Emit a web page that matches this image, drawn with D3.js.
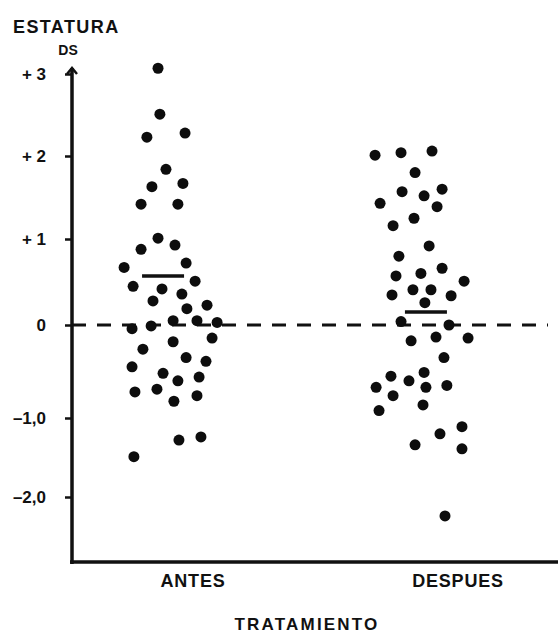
<!DOCTYPE html>
<html>
<head>
<meta charset="utf-8">
<script src="https://cdn.jsdelivr.net/npm/d3@7"></script>
<style>
  body { margin: 0; background: #fff; }
  svg { display: block; }
  text { font-family: "Liberation Sans", Arial, sans-serif; font-weight: bold; fill: #111; }
</style>
</head>
<body>
<div id="chart"></div>
<script>
// categories and tick labels
const categorias = ['ANTES', 'DESPUES'];
const tickValores = [3, 2, 1, 0, -1, -2];
const tickEtiquetas = ['+ 3', '+ 2', '+ 1', '0', '–1,0', '–2,0'];

// estatura (DS) of each child
const antes = [3.07, 2.51, 2.23, 2.28, 1.84, 1.63, 1.67, 1.42, 1.42, 1.01,
  0.88, 0.93, 0.67, 0.72, 0.45, 0.51, 0.42, 0.36, 0.28, 0.19,
  0.23, -0.04, -0.01, 0.05, 0.05, 0.03, -0.14, -0.18, -0.26, -0.35,
  -0.39, -0.45, -0.52, -0.60, -0.56, -0.72, -0.69, -0.82, -0.76, -1.28,
  -1.24, -1.49];
const despues = [2.01, 2.04, 2.06, 1.80, 1.57, 1.52, 1.60, 1.43, 1.39, 1.25,
  1.16, 0.92, 0.80, 0.57, 0.60, 0.66, 0.51, 0.35, 0.41, 0.41,
  0.34, 0.26, 0.04, 0.00, -0.17, -0.13, -0.14, -0.35, -0.51, -0.55,
  -0.60, -0.65, -0.67, -0.67, -0.76, -0.92, -0.86, -1.11, -1.20, -1.34,
  -1.39, -2.24];

// horizontal scatter of each dot, in category units
const jitterAntes = [-0.132, -0.125, -0.174, -0.030, -0.102, -0.155, -0.038, -0.196, -0.057, -0.132,
  -0.196, -0.068, -0.260, -0.026, -0.226, 0.008, -0.117, -0.042, -0.151, -0.023,
  0.053, -0.230, -0.158, -0.075, 0.015, 0.091, 0.072, -0.075, -0.189, -0.026,
  0.049, -0.230, -0.113, -0.057, 0.023, -0.219, -0.136, -0.072, 0.015, -0.053,
  0.030, -0.223];
const jitterDespues = [-0.313, -0.215, -0.098, -0.162, -0.211, -0.128, -0.060, -0.294, -0.079, -0.166,
  -0.245, -0.109, -0.223, -0.234, -0.140, -0.060, 0.023, -0.249, -0.170, -0.102,
  -0.026, -0.125, -0.215, -0.034, -0.177, -0.083, 0.038, -0.053, -0.128, -0.253,
  -0.185, -0.042, -0.121, -0.309, -0.245, -0.298, -0.132, 0.015, -0.068, -0.162,
  0.015, -0.049];

// the mean bar drawn on each group
const medias = [0.57, 0.15];
const jitterMedias = [-0.113, -0.121];

const width = 558, height = 635;
const axisX = 72, axisTop = 68, axisBottom = 562;

const svg = d3.select('#chart').append('svg')
  .attr('width', width)
  .attr('height', height);

// the original's hand-drawn scale is not even, so map each tick to its place
const y = d3.scaleLinear()
  .domain([-2, -1, 0, 1, 2, 3])
  .range([497, 418, 325, 239, 156, 74]);

const x = d3.scaleLinear()
  .domain([1, 2])
  .range([193, 458]);

const grupos = [
  { valores: antes, jitter: jitterAntes },
  { valores: despues, jitter: jitterDespues }
];

// zero reference line
svg.append('line')
  .attr('x1', axisX).attr('x2', 548)
  .attr('y1', y(0)).attr('y2', y(0))
  .attr('stroke', '#111')
  .attr('stroke-width', 3)
  .attr('stroke-dasharray', '14 11');

// dots
grupos.forEach(function(g, i) {
  svg.append('g')
    .selectAll('circle')
    .data(g.valores)
    .enter().append('circle')
    .attr('cx', function(d, j) { return x(i + 1 + g.jitter[j]); })
    .attr('cy', function(d) { return y(d); })
    .attr('r', 5.5)
    .attr('fill', '#0d0d0d');
});

// mean bars
svg.append('g')
  .selectAll('line')
  .data(medias)
  .enter().append('line')
  .attr('x1', function(d, i) { return x(i + 1 + jitterMedias[i]) - 21; })
  .attr('x2', function(d, i) { return x(i + 1 + jitterMedias[i]) + 21; })
  .attr('y1', function(d) { return y(d); })
  .attr('y2', function(d) { return y(d); })
  .attr('stroke', '#111')
  .attr('stroke-width', 3.5);

// y axis
const yAxis = svg.append('g')
  .attr('transform', 'translate(' + axisX + ',0)')
  .call(d3.axisLeft(y)
    .tickValues(tickValores)
    .tickFormat(function(d, i) { return tickEtiquetas[i]; })
    .tickSize(7)
    .tickPadding(19));
yAxis.select('.domain').remove();
yAxis.selectAll('.tick line').attr('stroke', '#111').attr('stroke-width', 2.5);
yAxis.selectAll('.tick text')
  .attr('font-size', 17)
  .style('font-family', '"Liberation Sans", Arial, sans-serif')
  .style('font-weight', 'bold')
  .attr('fill', '#111');

svg.append('line')
  .attr('x1', axisX).attr('x2', axisX)
  .attr('y1', axisTop).attr('y2', axisBottom + 2)
  .attr('stroke', '#111')
  .attr('stroke-width', 3.5);

// little arrow head on top of the y axis
svg.append('path')
  .attr('d', 'M' + (axisX - 5) + ',' + (axisTop + 6) + 'L' + axisX + ',' + axisTop + 'L' + (axisX + 5) + ',' + (axisTop + 6))
  .attr('fill', 'none')
  .attr('stroke', '#111')
  .attr('stroke-width', 2.5);

// x axis
svg.append('line')
  .attr('x1', axisX - 2).attr('x2', width)
  .attr('y1', axisBottom).attr('y2', axisBottom)
  .attr('stroke', '#111')
  .attr('stroke-width', 3.5);

svg.append('g')
  .selectAll('text')
  .data(categorias)
  .enter().append('text')
  .attr('x', function(d, i) { return x(i + 1); })
  .attr('y', 587)
  .attr('text-anchor', 'middle')
  .attr('font-size', 18)
  .attr('letter-spacing', 0.8)
  .text(function(d) { return d; });

// titles
svg.append('text')
  .attr('x', 307).attr('y', 630)
  .attr('text-anchor', 'middle')
  .attr('font-size', 17)
  .attr('letter-spacing', 2.2)
  .text('TRATAMIENTO');

svg.append('text')
  .attr('x', 13).attr('y', 33)
  .attr('font-size', 18)
  .attr('letter-spacing', 1.4)
  .text('ESTATURA');

svg.append('text')
  .attr('x', 68).attr('y', 55)
  .attr('text-anchor', 'middle')
  .attr('font-size', 14)
  .text('DS');
</script>
</body>
</html>
